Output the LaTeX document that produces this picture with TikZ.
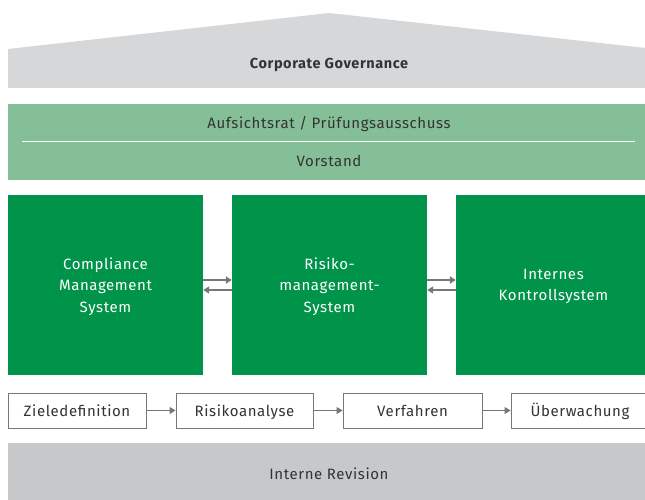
\documentclass[tikz,border=0pt]{standalone}
\usepackage{fontspec}
\setmainfont{Fira Sans}[LetterSpace=4]
\usetikzlibrary{arrows.meta,positioning}

\definecolor{roofgray}{HTML}{D6D7D9}
\definecolor{basegray}{HTML}{C7C8CA}
\definecolor{boardgreen}{HTML}{84BF98}
\definecolor{pillargreen}{HTML}{00934A}
\definecolor{linegray}{HTML}{777777}
\definecolor{textgray}{HTML}{333333}

\begin{document}
\begin{tikzpicture}[
    x=1pt,y=-1pt,
    band/.style={fill=boardgreen, minimum width=643pt, minimum height=76pt, inner sep=0pt},
    pillar/.style={fill=pillargreen, text=white, align=center, font=\fontsize{15}{21.5}\selectfont,
      text depth=0pt, minimum width=195pt, minimum height=180pt, inner sep=0pt},
    stage/.style={draw=linegray, line width=0.9pt, fill=white, text=textgray,
      font=\fontsize{15}{18}\selectfont, text height=11pt, text depth=0pt,
      minimum width=138pt, minimum height=35pt, inner sep=0pt},
    label/.style={text=textgray, font=\fontsize{15}{18}\selectfont, text height=11pt, text depth=0pt},
    edge/.style={-{Triangle[length=6pt,width=7pt]}, draw=linegray, line width=1.6pt}
  ]
    \useasboundingbox (0,0) rectangle (645,500);
    % roof
    \fill[roofgray] (8,49) -- (329,13) -- (655,49) -- (655,88) -- (8,88) -- cycle;
    \node[label, font=\fontsize{14.5}{18}\bfseries] (gov) at (329,63) {Corporate Governance};

    % boards
    \node[band] (board) at (329.5,142) {};
    \node[label] (aufsicht) at (329,123) {Aufsichtsrat / Prüfungsausschuss};
    \node[label] (vorstand) at (329,161) {Vorstand};
    \draw[white, line width=1pt] (22,141.5) -- (635,141.5);

    % pillars
    \node[pillar] (cms) at (105.5,285) {Compliance\\Management\\System};
    \node[pillar] (rms) at (329.5,285) {Risiko-\\management-\\System};
    \node[pillar] (iks) at (553.5,285) {Internes\\Kontrollsystem};

    \draw[edge] ([yshift=5pt]cms.east) -- ([yshift=5pt]rms.west);
    \draw[edge] ([yshift=-5pt]rms.west) -- ([yshift=-5pt]cms.east);
    \draw[edge] ([yshift=5pt]rms.east) -- ([yshift=5pt]iks.west);
    \draw[edge] ([yshift=-5pt]iks.west) -- ([yshift=-5pt]rms.east);

    % process
    \node[stage] (ziele) at (77,410.5) {Zieledefinition};
    \node[stage, minimum width=137pt] (analyse) at (244.5,410.5) {Risikoanalyse};
    \node[stage, minimum width=139pt] (verfahren) at (412.5,410.5) {Verfahren};
    \node[stage] (ueberw) at (580,410.5) {Überwachung};

    \draw[edge, line width=1.2pt] (ziele) -- (analyse);
    \draw[edge, line width=1.2pt] (analyse) -- (verfahren);
    \draw[edge, line width=1.2pt] (verfahren) -- (ueberw);

    % base
    \node[fill=basegray, minimum width=647pt, minimum height=62pt, inner sep=0pt] (revision) at (331.5,474) {};
    \node[label] (revtext) at (329,474) {Interne Revision};
  \end{tikzpicture}
\end{document}
